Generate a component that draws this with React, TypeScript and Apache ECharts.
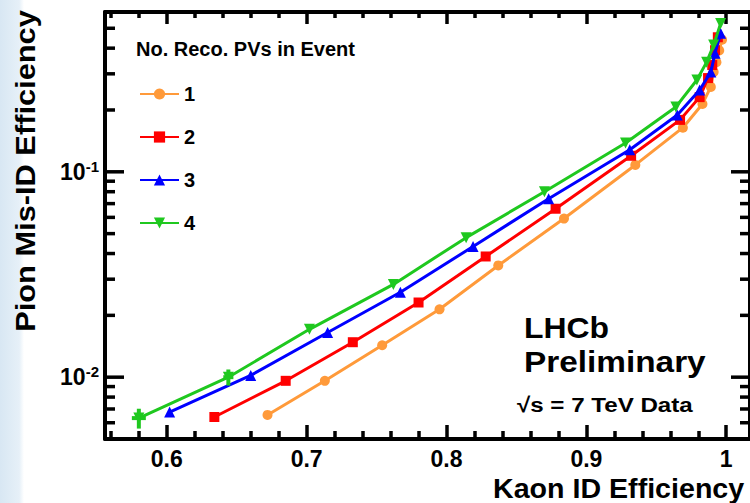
import React, { useEffect, useRef } from "react";
import * as echarts from "echarts";

// ---- data ----
const seriesNames = ["1", "2", "3", "4"];

const kaonEff1 = [0.672, 0.713, 0.754, 0.795, 0.837, 0.884, 0.935, 0.969, 0.983, 0.989, 0.991, 0.993, 0.995, 0.997];
const misId1 = [0.00655, 0.0096, 0.0143, 0.0214, 0.035, 0.0592, 0.108, 0.164, 0.214, 0.259, 0.306, 0.342, 0.39, 0.44];

const kaonEff2 = [0.634, 0.685, 0.733, 0.78, 0.828, 0.878, 0.932, 0.967, 0.981, 0.987, 0.99, 0.992, 0.994];
const misId2 = [0.0064, 0.0096, 0.0148, 0.0231, 0.0387, 0.0661, 0.1197, 0.179, 0.231, 0.286, 0.331, 0.391, 0.452];

const kaonEff3 = [0.602, 0.66, 0.715, 0.767, 0.819, 0.873, 0.931, 0.965, 0.981, 0.989, 0.992, 0.996];
const misId3 = [0.00676, 0.0102, 0.0165, 0.0259, 0.0433, 0.074, 0.128, 0.189, 0.25, 0.306, 0.378, 0.473];

const kaonEff4 = [0.58, 0.644, 0.702, 0.762, 0.814, 0.87, 0.928, 0.964, 0.979, 0.986, 0.991, 0.996];
const misId4 = [0.00632, 0.01, 0.0171, 0.0283, 0.0478, 0.08, 0.138, 0.207, 0.28, 0.342, 0.414, 0.528];
const kaonErr4 = [0.005, 0.0036, 0, 0, 0, 0, 0, 0, 0, 0, 0, 0];
const misIdErr4 = [0.0007, 0.0009, 0, 0, 0, 0, 0, 0, 0, 0, 0, 0];

const xMajorTicks = [0.6, 0.7, 0.8, 0.9, 1.0];
const xMinorTicks = [0.56, 0.58, 0.62, 0.64, 0.66, 0.68, 0.72, 0.74, 0.76, 0.78, 0.82, 0.84, 0.86, 0.88, 0.92, 0.94, 0.96, 0.98];
const yMajorTicks = [0.01, 0.1];
const yMinorTicks = [0.006, 0.007, 0.008, 0.009, 0.02, 0.03, 0.04, 0.05, 0.06, 0.07, 0.08, 0.09, 0.2, 0.3, 0.4, 0.5];

const X_MIN = 0.5558;
const X_MAX = 1.017;
const Y_MIN = 0.005;
const Y_MAX = 0.6;

const COLORS = ["#FF9A3A", "#FF0000", "#0000FF", "#1FC81F"];
const FONT = "'Liberation Sans', Arial, sans-serif";

const zip = (a: number[], b: number[]) => a.map((v, i) => [v, b[i]]);

export default function App() {
  const ref = useRef<HTMLDivElement>(null);

  useEffect(() => {
    if (!ref.current) return;
    const chart = echarts.init(ref.current, null, { renderer: "svg" });

    const staticGraphics: any[] = [
      {
        id: "bg",
        type: "rect",
        z: -10,
        silent: true,
        shape: { x: 0, y: 0, width: 24, height: 503 },
        style: {
          fill: {
            type: "linear", x: 0, y: 0, x2: 1, y2: 0,
            colorStops: [
              { offset: 0, color: "#d8e7f3" },
              { offset: 0.8, color: "#e6f0f8" },
              { offset: 1, color: "#ffffff" },
            ],
          },
        },
      },
      {
        id: "ytitle",
        type: "text",
        x: 25,
        y: 171,
        rotation: Math.PI / 2,
        scaleX: 1.1,
        style: {
          text: "Pion Mis-ID Efficiency",
          font: `bold 28px ${FONT}`,
          fill: "#000",
          align: "center",
          verticalAlign: "middle",
        },
      },
      {
        id: "xtitle",
        type: "text",
        x: 493,
        y: 489,
        scaleX: 1.06,
        style: {
          text: "Kaon ID Efficiency",
          font: `bold 27px ${FONT}`,
          fill: "#000",
          align: "left",
          verticalAlign: "middle",
        },
      },
      {
        id: "legtitle",
        type: "text",
        x: 136,
        y: 49,
        style: {
          text: "No. Reco. PVs in Event",
          font: `bold 20px ${FONT}`,
          fill: "#000",
          align: "left",
          verticalAlign: "middle",
        },
      },
      {
        id: "lhcb",
        type: "text",
        x: 524,
        y: 328,
        scaleX: 1.1,
        style: { text: "LHCb", font: `bold 29px ${FONT}`, fill: "#000", align: "left", verticalAlign: "middle" },
      },
      {
        id: "prelim",
        type: "text",
        x: 524,
        y: 362,
        scaleX: 1.15,
        style: { text: "Preliminary", font: `bold 29px ${FONT}`, fill: "#000", align: "left", verticalAlign: "middle" },
      },
      {
        id: "energy",
        type: "text",
        x: 517,
        y: 405,
        scaleX: 1.15,
        style: { text: "\u221As = 7 TeV Data", font: `bold 21px ${FONT}`, fill: "#000", align: "left", verticalAlign: "middle" },
      },
    ];

    const hiddenAxisBits = {
      axisLabel: { show: false },
      splitLine: { show: false },
    };

    const option: any = {
      animation: false,
      backgroundColor: "#ffffff",
      textStyle: { fontFamily: FONT },
      grid: { left: 105, right: -2, top: 12, bottom: 64, containLabel: false },
      legend: {
        data: seriesNames,
        orient: "vertical",
        left: 134,
        top: 79,
        itemWidth: 39,
        itemHeight: 14,
        itemGap: 23,
        textStyle: { fontSize: 20, fontWeight: "bold", color: "#000", lineHeight: 20, fontFamily: FONT },
      },
      xAxis: [
        {
          type: "value",
          position: "bottom",
          min: X_MIN,
          max: X_MAX,
          axisLine: { show: true, onZero: false, lineStyle: { color: "#000", width: 4 } },
          axisTick: { show: true, inside: true, length: 14, customValues: xMajorTicks, lineStyle: { color: "#000", width: 3.5 } },
          axisLabel: {
            show: true,
            customValues: xMajorTicks,
            margin: 8,
            fontSize: 23,
            fontWeight: "bold",
            color: "#000",
            fontFamily: FONT,
          },
          splitLine: { show: false },
        },
        {
          type: "value",
          position: "bottom",
          min: X_MIN,
          max: X_MAX,
          axisLine: { show: false, onZero: false },
          axisTick: { show: true, inside: true, length: 8, customValues: xMinorTicks, lineStyle: { color: "#000", width: 3.5 } },
          ...hiddenAxisBits,
        },
        {
          type: "value",
          position: "top",
          min: X_MIN,
          max: X_MAX,
          axisLine: { show: true, onZero: false, lineStyle: { color: "#000", width: 4 } },
          axisTick: { show: true, inside: true, length: 12, customValues: xMajorTicks, lineStyle: { color: "#000", width: 3.5 } },
          ...hiddenAxisBits,
        },
        {
          type: "value",
          position: "top",
          min: X_MIN,
          max: X_MAX,
          axisLine: { show: false, onZero: false },
          axisTick: { show: true, inside: true, length: 6, customValues: xMinorTicks, lineStyle: { color: "#000", width: 3.5 } },
          ...hiddenAxisBits,
        },
      ],
      yAxis: [
        {
          type: "log",
          logBase: 10,
          position: "left",
          min: Y_MIN,
          max: Y_MAX,
          axisLine: { show: true, onZero: false, lineStyle: { color: "#000", width: 4 } },
          axisTick: { show: false },
          splitLine: { show: false },
          axisLabel: {
            show: true,
            margin: 6,
            showMinLabel: true,
            showMaxLabel: true,
            formatter: (v: number) => {
              const l = Math.log10(v);
              if (Math.abs(l - Math.round(l)) > 1e-6) return "";
              return `{b|10}{s|${Math.round(l)}}`;
            },
            rich: {
              b: { fontSize: 23, fontWeight: "bold", color: "#000", lineHeight: 26, fontFamily: FONT },
              s: { fontSize: 15, fontWeight: "bold", color: "#000", lineHeight: 15, verticalAlign: "top", fontFamily: FONT },
            },
          },
        },
        {
          type: "log",
          logBase: 10,
          position: "right",
          min: Y_MIN,
          max: Y_MAX,
          axisLine: { show: true, onZero: false, lineStyle: { color: "#000", width: 4 } },
          axisTick: { show: false },
          ...hiddenAxisBits,
        },
      ],
      series: [
        {
          name: seriesNames[0],
          type: "line",
          data: zip(kaonEff1, misId1),
          symbol: "circle",
          symbolSize: 10,
          lineStyle: { color: COLORS[0], width: 3 },
          itemStyle: { color: COLORS[0] },
          z: 3,
        },
        {
          name: seriesNames[1],
          type: "line",
          data: zip(kaonEff2, misId2),
          symbol: "rect",
          symbolSize: 10,
          lineStyle: { color: COLORS[1], width: 3 },
          itemStyle: { color: COLORS[1] },
          z: 4,
        },
        {
          name: seriesNames[2],
          type: "line",
          data: zip(kaonEff3, misId3),
          symbol: "triangle",
          symbolSize: 11,
          lineStyle: { color: COLORS[2], width: 3 },
          itemStyle: { color: COLORS[2] },
          z: 5,
        },
        {
          name: seriesNames[3],
          type: "line",
          data: zip(kaonEff4, misId4),
          symbol: "triangle",
          symbolRotate: 180,
          symbolSize: 11,
          lineStyle: { color: COLORS[3], width: 3 },
          itemStyle: { color: COLORS[3] },
          z: 6,
        },
        {
          name: "err4",
          type: "custom",
          z: 7,
          data: kaonEff4.map((x, i) => [x, misId4[i], kaonErr4[i], misIdErr4[i]]),
          encode: { x: 0, y: 1 },
          renderItem: (_params: any, api: any) => {
            const x = api.value(0);
            const y = api.value(1);
            const ex = api.value(2);
            const ey = api.value(3);
            if (!ex && !ey) return null;
            const l = api.coord([x - ex, y]);
            const r = api.coord([x + ex, y]);
            const t = api.coord([x, y + ey]);
            const b = api.coord([x, y - ey]);
            return {
              type: "group",
              children: [
                { type: "line", shape: { x1: l[0], y1: l[1], x2: r[0], y2: r[1] }, style: { stroke: COLORS[3], lineWidth: 4 } },
                { type: "line", shape: { x1: t[0], y1: t[1], x2: b[0], y2: b[1] }, style: { stroke: COLORS[3], lineWidth: 4 } },
              ],
            };
          },
        },
      ],
      graphic: staticGraphics,
    };

    chart.setOption(option);

    // y-axis decade ticks (log axis) placed through the axis scale
    const leftX = chart.convertToPixel({ xAxisIndex: 0 }, X_MIN) as number;
    const rightX = chart.convertToPixel({ xAxisIndex: 0 }, X_MAX) as number;
    const tickEls: any[] = [];
    const addTick = (v: number, len: number, idx: string) => {
      const py = chart.convertToPixel({ yAxisIndex: 0 }, v) as number;
      tickEls.push({
        id: "tl" + idx,
        type: "line",
        silent: true,
        shape: { x1: leftX, y1: py, x2: leftX + len, y2: py },
        style: { stroke: "#000", lineWidth: 3.5 },
      });
      tickEls.push({
        id: "tr" + idx,
        type: "line",
        silent: true,
        shape: { x1: rightX, y1: py, x2: rightX - len, y2: py },
        style: { stroke: "#000", lineWidth: 3.5 },
      });
    };
    yMajorTicks.forEach((v, i) => addTick(v, 19, "M" + i));
    yMinorTicks.forEach((v, i) => addTick(v, 10, "m" + i));

    chart.setOption({ graphic: [...staticGraphics, ...tickEls] });

    return () => {
      chart.dispose();
    };
  }, []);

  return <div ref={ref} style={{ position: "fixed", left: 0, top: 0, width: 750, height: 503 }} />;
}
